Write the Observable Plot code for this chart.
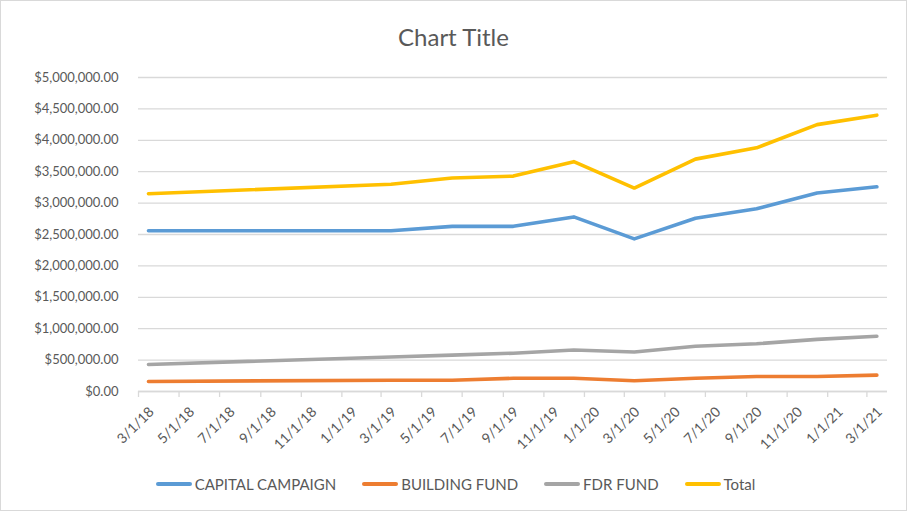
<!DOCTYPE html>
<html>
<head>
<meta charset="utf-8">
<script src="https://cdn.jsdelivr.net/npm/d3@7"></script>
<script src="https://cdn.jsdelivr.net/npm/@observablehq/plot@0.6"></script>
<style>
  html, body { margin: 0; padding: 0; background: #fff; }
  #chart {
    position: relative; width: 907px; height: 511px; box-sizing: border-box;
    border: 1px solid #d9d9d9; font-family: Lato, "Open Sans", sans-serif; color: #595959;
    overflow: hidden;
  }
  #title { height: 59px; line-height: 72px; text-align: center; font-size: 24px; color: #595959; }
  #legend {
    display: flex; justify-content: center; align-items: center;
    font-size: 15px; color: #595959; height: 40px; margin-top: -2px; padding-left: 4px;
  }
  .item { display: flex; align-items: center; margin: 0 13px; }
  .swatch { width: 36px; height: 3.5px; border-radius: 2px; margin-right: 3px; }
</style>
</head>
<body>
<div id="chart">
  <div id="title">Chart Title</div>
  <div id="plot"></div>
  <div id="legend"></div>
</div>
<script>
// Data
const dates = ["2018-03-16", "2019-03-16", "2019-06-16", "2019-09-16", "2019-12-16",
               "2020-03-16", "2020-06-16", "2020-09-16", "2020-12-16", "2021-03-16"];
const capitalCampaign = [2560000, 2560000, 2630000, 2630000, 2780000, 2430000, 2760000, 2910000, 3160000, 3260000];
const buildingFund    = [160000, 180000, 180000, 210000, 210000, 170000, 210000, 240000, 240000, 260000];
const fdrFund         = [430000, 550000, 580000, 610000, 660000, 630000, 720000, 760000, 830000, 880000];
const total           = [3150000, 3300000, 3400000, 3430000, 3660000, 3240000, 3700000, 3880000, 4250000, 4400000];

const seriesNames  = ["CAPITAL CAMPAIGN", "BUILDING FUND", "FDR FUND", "Total"];
const seriesColors = ["#5B9BD5", "#ED7D31", "#A5A5A5", "#FFC000"];
const seriesValues = [capitalCampaign, buildingFund, fdrFund, total];

const yTicks = [0, 500000, 1000000, 1500000, 2000000, 2500000, 3000000, 3500000, 4000000, 4500000, 5000000];
const xTickLabels = ["3/1/18", "5/1/18", "7/1/18", "9/1/18", "11/1/18", "1/1/19", "3/1/19", "5/1/19", "7/1/19",
                     "9/1/19", "11/1/19", "1/1/20", "3/1/20", "5/1/20", "7/1/20", "9/1/20", "11/1/20", "1/1/21", "3/1/21"];

const parseLabel = d3.utcParse("%m/%d/%y");
const xTicks = xTickLabels.map(parseLabel);
const fmtX = d3.utcFormat("%-m/%-d/%y");

const rows = [];
seriesNames.forEach((name, i) => {
  dates.forEach((d, j) => rows.push({series: name, date: new Date(d), value: seriesValues[i][j]}));
});

const chart = Plot.plot({
  width: 905,
  height: 406,
  marginLeft: 137,
  marginRight: 19,
  marginTop: 17,
  marginBottom: 75,
  style: {fontFamily: "Lato, 'Open Sans', sans-serif", fontSize: "13px", color: "#595959", background: "#fff"},
  x: {type: "utc", domain: [new Date("2018-03-01"), new Date("2021-04-01")], label: null},
  y: {domain: [0, 5000000], label: null},
  color: {domain: seriesNames, range: seriesColors},
  marks: [
    Plot.gridY(yTicks, {stroke: "#d9d9d9", strokeOpacity: 1, strokeWidth: 1.3}),
    Plot.axisY(yTicks, {tickSize: 0, tickPadding: 20, tickFormat: d3.format("$,.2f"), fill: "#595959", fontSize: 13, label: null}),
    Plot.axisX(xTicks, {tickSize: 6, tickRotate: -45, tickFormat: fmtX, stroke: "#d9d9d9", strokeWidth: 1.3, label: null, text: null}),
    Plot.axisX(xTicks, {tickSize: 0, tickPadding: 0, tickRotate: -45, tickFormat: fmtX, fill: "#595959", fontSize: 14, dx: 13, dy: 18, label: null}),
    Plot.ruleY([0], {stroke: "#d9d9d9", strokeWidth: 1.3}),
    Plot.line(rows, {x: "date", y: "value", z: "series", stroke: "series", strokeWidth: 3.6, strokeLinecap: "round", strokeLinejoin: "round"})
  ]
});
document.getElementById("plot").append(chart);

const legend = document.getElementById("legend");
seriesNames.forEach((name, i) => {
  const item = document.createElement("div");
  item.className = "item";
  const sw = document.createElement("div");
  sw.className = "swatch";
  sw.style.background = seriesColors[i];
  const tx = document.createElement("span");
  tx.textContent = name;
  item.append(sw, tx);
  legend.append(item);
});
</script>
</body>
</html>
